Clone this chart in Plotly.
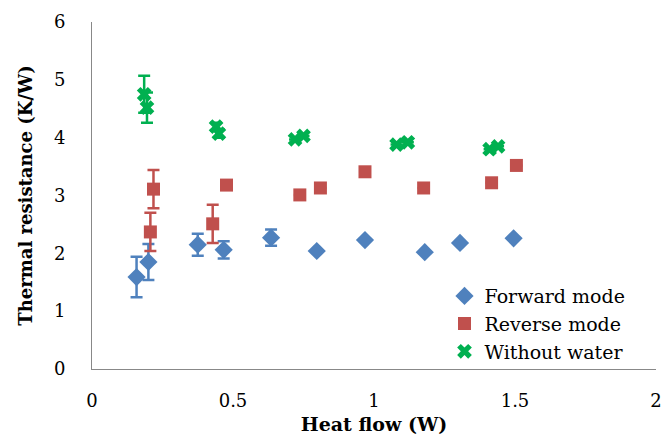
import plotly.graph_objects as go

# Forward mode
fwd_x = [0.158, 0.200, 0.375, 0.467, 0.635, 0.797, 0.968, 1.18, 1.305, 1.495]
fwd_y = [1.59, 1.85, 2.15, 2.06, 2.27, 2.04, 2.23, 2.02, 2.18, 2.26]
fwd_err = [0.35, 0.31, 0.19, 0.15, 0.14, 0, 0, 0, 0, 0]

# Reverse mode
rev_x = [0.207, 0.218, 0.428, 0.477, 0.737, 0.81, 0.968, 1.176, 1.417, 1.505]
rev_y = [2.37, 3.11, 2.51, 3.18, 3.01, 3.13, 3.41, 3.13, 3.22, 3.52]
rev_err = [0.33, 0.33, 0.33, 0, 0, 0, 0, 0, 0, 0]

# Without water
ww_x = [0.185, 0.195, 0.44, 0.45, 0.72, 0.75, 1.08, 1.12, 1.41, 1.44]
ww_y = [4.75, 4.52, 4.19, 4.07, 3.97, 4.03, 3.88, 3.92, 3.80, 3.85]
ww_err = [0.32, 0.26, 0.07, 0.07, 0, 0, 0, 0, 0, 0]

x_ticks = [0, 0.5, 1, 1.5, 2]
x_ticktext = ["0", "0.5", "1", "1.5", "2"]
y_ticks = [0, 1, 2, 3, 4, 5, 6]

FF = "DejaVu Serif"

fig = go.Figure()
fig.add_trace(go.Scatter(
    x=fwd_x, y=fwd_y, mode="markers", name="Forward mode",
    marker=dict(symbol="diamond", size=14, color="#4F81BD"),
    error_y=dict(type="data", array=fwd_err, color="#4F81BD", thickness=2.5, width=6),
))
fig.add_trace(go.Scatter(
    x=rev_x, y=rev_y, mode="markers", name="Reverse mode",
    marker=dict(symbol="square", size=13, color="#C0504D"),
    error_y=dict(type="data", array=rev_err, color="#C0504D", thickness=2.5, width=6),
))
fig.add_trace(go.Scatter(
    x=ww_x, y=ww_y, mode="markers", name="Without water",
    marker=dict(symbol="x", size=13, color="#00B050", line=dict(width=0)),
    error_y=dict(type="data", array=ww_err, color="#00B050", thickness=2.5, width=6),
))

fig.update_layout(
    width=664, height=445,
    margin=dict(l=92, r=2, t=22, b=76),
    paper_bgcolor="white", plot_bgcolor="white",
    font=dict(family=FF, size=16, color="#000000"),
    showlegend=True,
    legend=dict(x=0.625, y=0.265, xanchor="left", yanchor="top",
                bgcolor="rgba(0,0,0,0)", font=dict(size=19, family=FF, color="#000000"),
                tracegroupgap=0),
    xaxis=dict(range=[0, 2], tickvals=x_ticks, ticktext=x_ticktext,
               showgrid=False, zeroline=False, showline=True, linecolor="#888888", linewidth=1,
               ticks="", ticklabelstandoff=15, ticklabeloverflow="allow",
               tickfont=dict(family=FF, size=18, color="#000000"),
               title=dict(text="<b>Heat flow (W)</b>", font=dict(family=FF, size=19, color="#000000"), standoff=8)),
    yaxis=dict(range=[0, 6], tickvals=y_ticks,
               showgrid=False, zeroline=False, showline=True, linecolor="#888888", linewidth=1,
               ticks="", ticklabelstandoff=22,
               tickfont=dict(family=FF, size=18, color="#000000"),
               title=dict(text="<b>Thermal resistance (K/W)</b>", font=dict(family=FF, size=18, color="#000000"), standoff=16)),
)

fig.write_html("out.html")
